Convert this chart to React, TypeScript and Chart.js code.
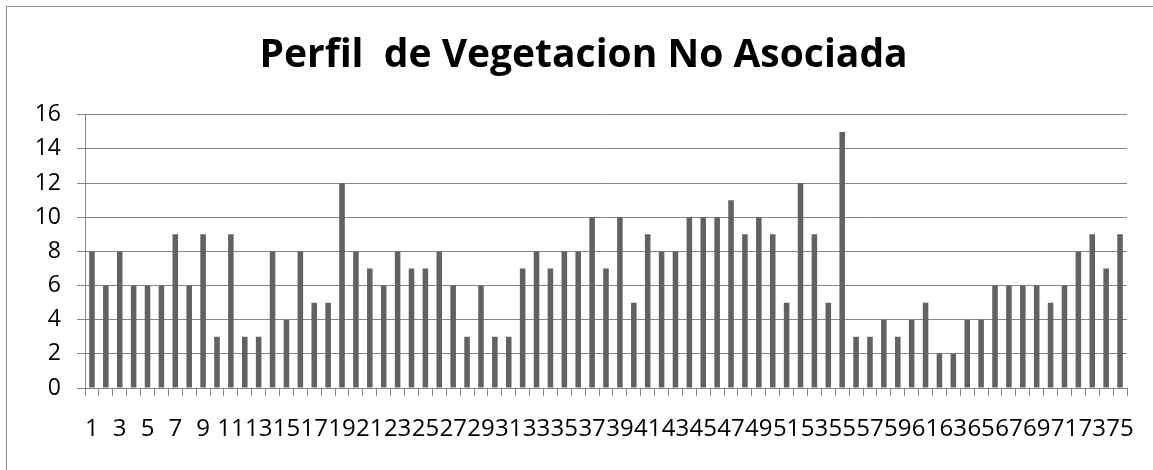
import React, { useEffect, useRef } from "react";
import { Chart, registerables } from "chart.js";

Chart.register(...registerables);

const titleText = "Perfil  de Vegetacion No Asociada";

const categories: string[] = Array.from({ length: 75 }, (_, i) => String(i + 1));

const values: number[] = [
  8, 6, 8, 6, 6, 6, 9, 6, 9, 3,
  9, 3, 3, 8, 4, 8, 5, 5, 12, 8,
  7, 6, 8, 7, 7, 8, 6, 3, 6, 3,
  3, 7, 8, 7, 8, 8, 10, 7, 10, 5,
  9, 8, 8, 10, 10, 10, 11, 9, 10, 9,
  5, 12, 9, 5, 15, 3, 3, 4, 3, 4,
  5, 2, 2, 4, 4, 6, 6, 6, 6, 5,
  6, 8, 9, 7, 9,
];

const yTicks: number[] = [0, 2, 4, 6, 8, 10, 12, 14, 16];

const GRID = "#878787";
const BAR = "#626262";
const FONT = "'Open Sans', 'Noto Sans', sans-serif";

export default function App() {
  const canvasRef = useRef<HTMLCanvasElement | null>(null);

  useEffect(() => {
    if (!canvasRef.current) return;
    const chart = new Chart(canvasRef.current, {
      type: "bar",
      data: {
        labels: categories,
        datasets: [
          {
            data: values,
            backgroundColor: BAR,
            borderWidth: 0,
            categoryPercentage: 1,
            barPercentage: 0.4,
          },
        ],
      },
      options: {
        responsive: false,
        animation: false,
        layout: { padding: 0 },
        plugins: {
          legend: { display: false },
          tooltip: { enabled: false },
          title: {
            display: true,
            text: titleText,
            color: "#000000",
            font: { family: FONT, size: 39, weight: "bold", lineHeight: 1.2 },
            padding: { top: 25, bottom: 36 },
          },
        },
        scales: {
          x: {
            type: "category",
            offset: true,
            grid: {
              display: true,
              drawOnChartArea: false,
              drawTicks: true,
              tickLength: 8,
              color: GRID,
              offset: true,
            },
            border: { display: true, color: GRID, width: 1 },
            ticks: {
              autoSkip: false,
              maxRotation: 0,
              minRotation: 0,
              padding: 19,
              color: "#000000",
              font: { family: FONT, size: 24 },
              callback: (_v: any, i: number) => (i % 2 === 0 ? categories[i] : ""),
            },
            afterFit: (s: any) => {
              s.height = 82;
            },
          },
          y: {
            type: "linear",
            min: 0,
            max: 16,
            afterBuildTicks: (s: any) => {
              s.ticks = yTicks.map((v) => ({ value: v }));
            },
            grid: { color: GRID, tickLength: 8, lineWidth: 1 },
            border: { display: true, color: GRID, width: 1 },
            ticks: {
              padding: 16,
              color: "#000000",
              font: { family: FONT, size: 23 },
            },
            afterFit: (s: any) => {
              s.width = 78;
            },
          },
          yRight: {
            type: "linear",
            position: "right",
            display: true,
            grid: { display: false },
            border: { display: false },
            ticks: { display: false },
            afterFit: (s: any) => {
              s.width = 33;
            },
          },
        },
      },
    });
    return () => chart.destroy();
  }, []);

  return (
    <div
      style={{
        position: "fixed",
        left: 0,
        top: 0,
        width: 1153,
        height: 470,
        overflow: "hidden",
        background: "#ffffff",
      }}
    >
      <div
        style={{
          position: "absolute",
          left: 6,
          top: 6,
          width: 1160,
          height: 480,
          borderLeft: "1px solid #8c8c8c",
          borderTop: "1px solid #8c8c8c",
          boxSizing: "border-box",
        }}
      >
        <canvas
          ref={canvasRef}
          width={1153}
          height={463}
          style={{ position: "absolute", left: 0, top: 0, width: 1153, height: 463 }}
        />
      </div>
    </div>
  );
}
